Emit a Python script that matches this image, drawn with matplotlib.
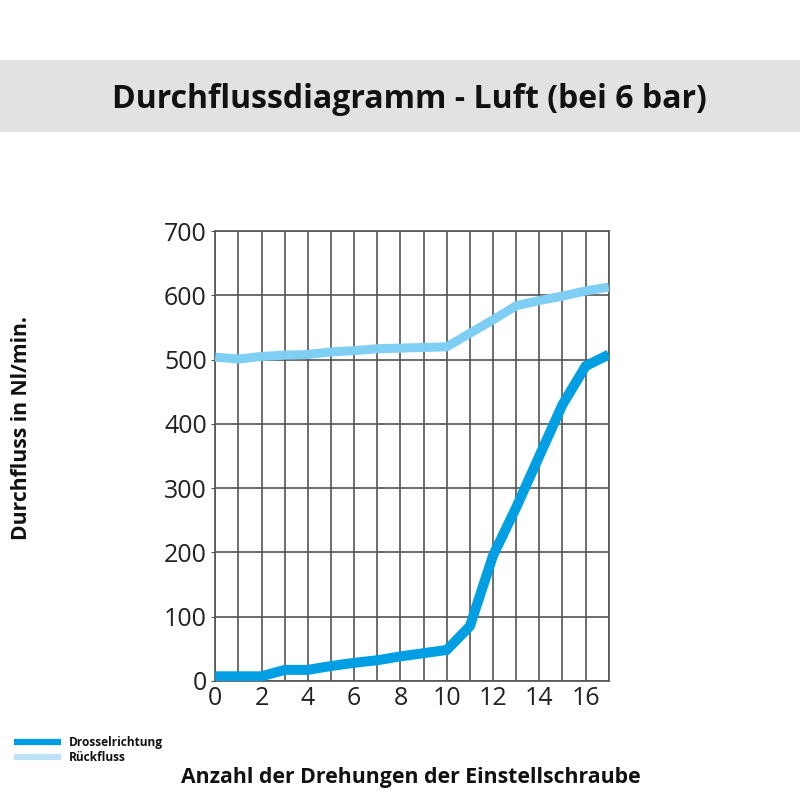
import matplotlib
matplotlib.use("Agg")
import matplotlib.pyplot as plt
from matplotlib.lines import Line2D
from matplotlib.patches import Rectangle

plt.rcParams['font.family'] = ['Open Sans', 'DejaVu Sans']

# ---- data ----
turns = list(range(0, 18))
drossel = [7, 7, 7, 17, 17, 23, 28, 32, 38, 43, 48, 85, 195, 270, 350, 430, 490, 508]
rueck = [504, 501, 505, 507, 508, 512, 514, 517, 518, 519, 520, 541, 562, 584, 592, 599, 607, 613]
x_ticks = [0, 2, 4, 6, 8, 10, 12, 14, 16]
y_ticks = [0, 100, 200, 300, 400, 500, 600, 700]
title = "Durchflussdiagramm - Luft (bei 6 bar)"
xlabel = "Anzahl der Drehungen der Einstellschraube"
ylabel = "Durchfluss in Nl/min."
series_names = ["Drosselrichtung", "Rückfluss"]

c_dark = "#009FE3"
c_light = "#7FCFF5"
c_light_leg = "#BDE3F8"

fig = plt.figure(figsize=(8, 8), dpi=100)

# title band
fig.patches.append(Rectangle((0, 0.835), 1, 0.09, transform=fig.transFigure,
                             facecolor="#E2E2E2", edgecolor="none", zorder=0))
fig.text(0.512, 0.88, title, ha="center", va="center_baseline", fontsize=23,
         fontweight="bold", color="#111111")

ax = fig.add_axes([0.269, 0.149, 0.492, 0.562])
ax.set_xlim(0, 17)
ax.set_ylim(0, 700)
ax.set_xticks(range(0, 18), minor=True)
ax.set_xticks(x_ticks)
ax.set_yticks(y_ticks)
ax.grid(True, which="both", axis="x", color="#555555", linewidth=1.2)
ax.grid(True, which="major", axis="y", color="#555555", linewidth=1.2)
ax.set_axisbelow(True)
for s in ax.spines.values():
    s.set_color("#555555")
    s.set_linewidth(1.2)
ax.tick_params(axis="x", which="both", length=0, labelsize=18, pad=4, labelcolor="#222222")
ax.tick_params(axis="y", which="major", length=3, labelsize=18, pad=3,
               color="#555555", labelcolor="#222222")

ax.plot(turns, rueck, color=c_light, linewidth=6.5, solid_capstyle="butt",
        solid_joinstyle="miter", zorder=3)
ax.plot(turns, drossel, color=c_dark, linewidth=7.2, solid_capstyle="butt",
        solid_joinstyle="miter", zorder=4)

fig.text(0.0275, 0.465, ylabel, rotation=90, ha="center", va="center",
         fontsize=15.2, fontweight="bold", color="#111111")
fig.text(0.514, 0.0275, xlabel, ha="center", va="center",
         fontsize=15.3, fontweight="bold", color="#111111")

handles = [Line2D([0], [0], color=c_dark, linewidth=4.5, solid_capstyle="butt"),
           Line2D([0], [0], color=c_light_leg, linewidth=4.5, solid_capstyle="butt")]
leg = fig.legend(handles, series_names, loc="upper left",
                 bbox_to_anchor=(0.004, 0.093), frameon=False,
                 handlelength=3.9, handletextpad=0.7, labelspacing=0.15,
                 prop={"size": 8.6, "weight": "bold", "family": ["Open Sans", "DejaVu Sans"]})
for t in leg.get_texts():
    t.set_color("#111111")

fig.savefig("out.png", dpi=100, facecolor="white")
